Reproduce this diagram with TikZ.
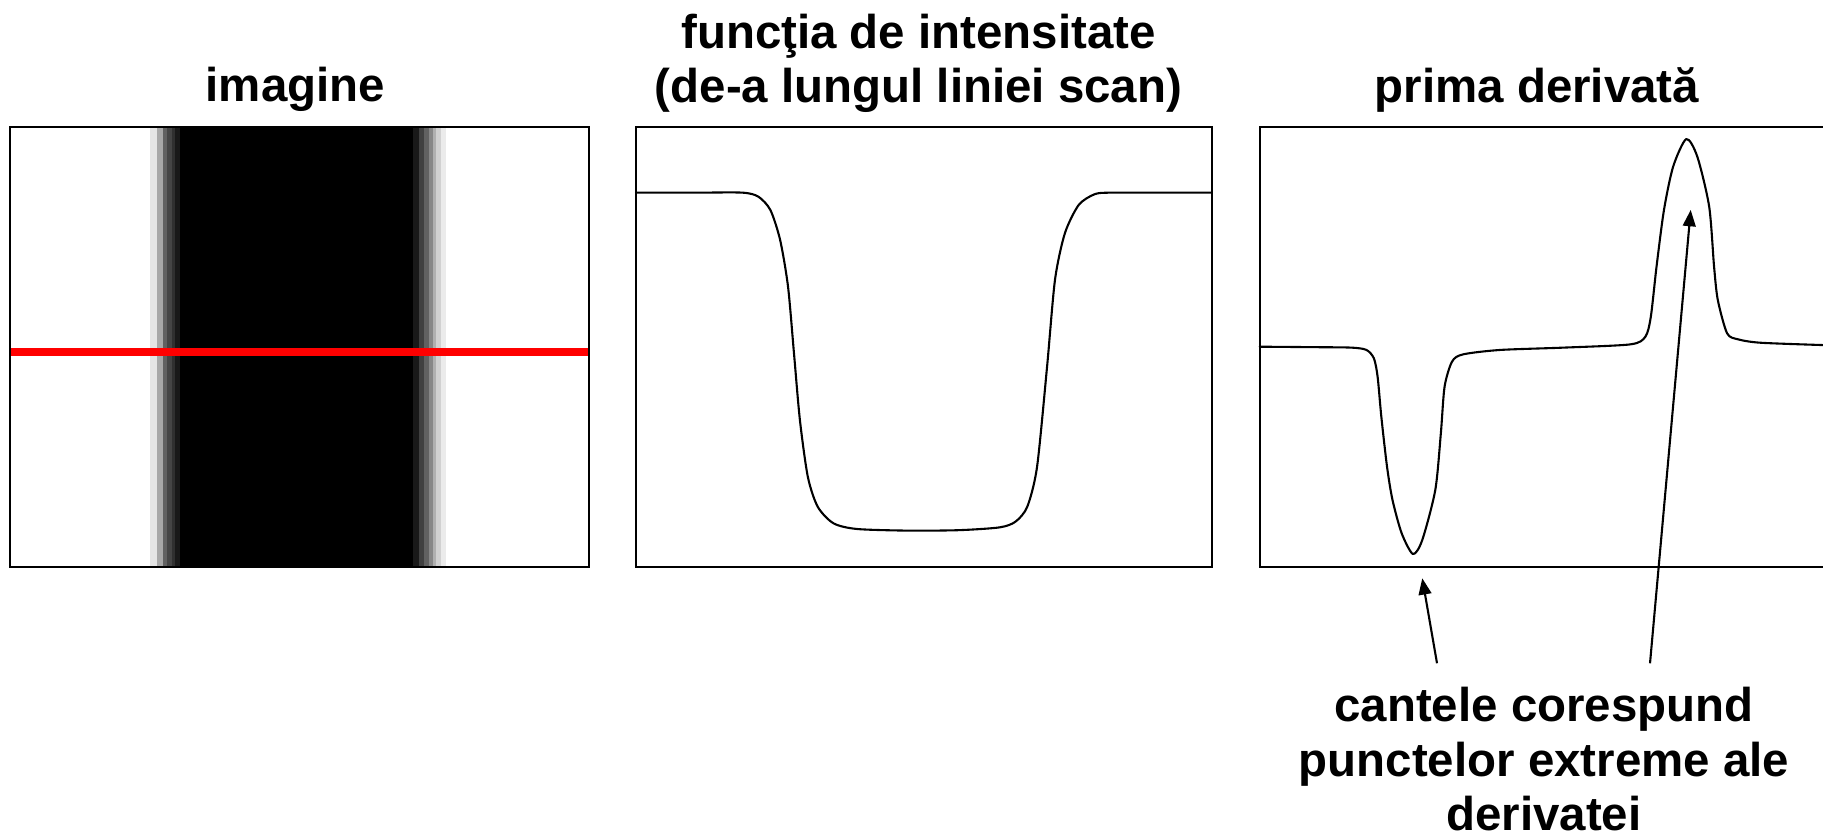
\documentclass[tikz,border=0pt]{standalone}
\usepackage{fontspec}
\setmainfont{Liberation Sans}
\usetikzlibrary{arrows.meta}
\begin{document}
\begin{tikzpicture}[x=1pt,y=-1pt,
  frame/.style={draw=black,line width=2pt},
  curve/.style={draw=black,line width=1.8pt,line join=round,line cap=round},
  title/.style={font=\fontsize{40.8}{46}\selectfont\bfseries,anchor=base,inner sep=0pt},
  pointer/.style={draw=black,line width=1.8pt,-{Triangle[length=14pt,width=11pt]}},
  scan/.style={draw=red,line width=7.2pt}]

\useasboundingbox (0,0) rectangle (1568,722);

% ---- panel 1: image of a dark vertical bar with blurred edges ----
\fill[black] (154,109.5) rectangle (355.6,487.4);
\foreach \a/\b/\g in {129/134.9/10, 134.7/140.6/34, 140.4/144.1/62, 143.9/147.8/73,
                      147.6/150.7/81, 150.5/154.4/90,
                      355.4/360.2/90, 360/364.7/75, 364.5/369/62, 368.8/372.5/47,
                      372.3/374.9/31, 374.7/379.2/18, 379/383.3/8}
  \fill[black!\g] (\a,109.5) rectangle (\b,487.4);
\draw[scan] (8.5,303) -- (506.8,303);
\draw[frame] (8.5,109.5) rectangle (506.8,487.4);

% ---- panel 2: intensity profile along the scan line ----
\draw[frame] (547,109.5) rectangle (1042.4,487.4);
\draw[curve] plot[smooth,tension=0.45] coordinates {
  (547,165.7) (600,165.7) (638.7,165.7) (652.3,169.2) (662.6,180.6) (671,206.4)
  (677.8,246.6) (682.9,303.7) (688,361.2) (694.8,410) (703.3,435.8) (716.9,450.1)
  (737.2,455) (781.5,456.4) (825,456) (859.8,453.6) (873.4,448.7) (883.6,435.8)
  (892,401.4) (900.6,315.4) (907.4,240.8) (915.9,200.7) (927.8,176.3) (941.4,167.1)
  (955,165.7) (1000,165.7) (1042.4,165.7)};

% ---- panel 3: first derivative ----
\draw[frame] (1568,109.5) -- (1083.5,109.5) -- (1083.5,487.4) -- (1568,487.4);
\draw[curve] plot[smooth,tension=0.45] coordinates {
  (1083.5,298.2) (1130,298.6) (1162.5,299) (1175.3,301) (1181.7,308.2) (1184.9,324)
  (1188.1,358.4) (1193,401.4) (1197.7,430) (1205.6,458.7) (1215.3,476.5)
  (1223.3,464.5) (1234.5,421.5) (1239.3,372.7) (1242.5,332.6) (1248.9,311.1)
  (1258.4,304.8) (1290.3,301) (1344.8,299) (1402.3,296.2) (1415.2,289.6)
  (1419.9,272.4) (1424.8,229.4) (1431.2,180.6) (1439.1,143.3) (1450.4,119.6)
  (1459.9,134.8) (1470.1,177.8) (1474.3,229.4) (1477.5,258) (1485.5,286.7)
  (1495.1,291.9) (1514.3,294.8) (1568,296.8)};

% ---- titles ----
\node[title] (timg)  at (254,87.5)  {imagine};
\node[title] (tfun)  at (790,41.5)  {funcţia de intensitate};
\node[title] (tscan) at (790,88)    {(de-a lungul liniei scan)};
\node[title] (tder)  at (1322,88.5) {prima derivată};

% ---- caption and pointers ----
\node[title] (c1) at (1328,621) {cantele corespund};
\node[title] (c2) at (1328,668) {punctelor extreme ale};
\node[title] (c3) at (1328,714.5) {derivatei};

\coordinate (tailmin) at (1236,570.5);
\coordinate (tipmin)  at (1223.3,497.4);
\coordinate (tailmax) at (1419.2,570.5);
\coordinate (tipmax)  at (1454.2,180.6);
\draw[pointer] (tailmin) -- (tipmin);
\draw[pointer] (tailmax) -- (tipmax);
\end{tikzpicture}
\end{document}
